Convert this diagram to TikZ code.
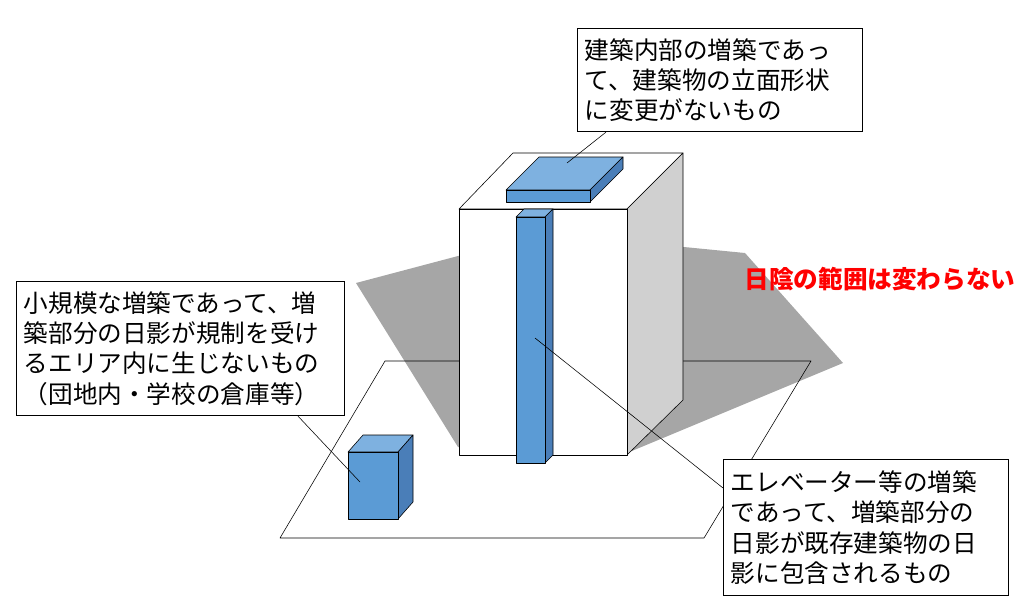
\documentclass[tikz,border=0pt]{standalone}
\usepackage{fontspec}
\newfontfamily\cjk{Noto Sans CJK JP}
\usetikzlibrary{calc}
\definecolor{boxblue}{HTML}{5B9BD5}
\definecolor{boxtop}{HTML}{7EB1E0}
\definecolor{boxside}{HTML}{4A7EB8}
\definecolor{shadegray}{HTML}{A6A6A6}
\definecolor{wallgray}{HTML}{D0D0D0}
\tikzset{
    note/.style = {draw, thick, fill=white, align=left, inner sep=0pt,
        font=\cjk\fontsize{17.5}{21.5}\selectfont, anchor=north west},
    leader/.style = {draw, thin},
    face/.style = {draw, line join=round}
}
\begin{document}
\begin{tikzpicture}[x=0.025cm, y=-0.025cm]
    \useasboundingbox (0,0) rectangle (1026,600);
    % shadow on the ground
    \fill[shadegray] (356,283) -- (458,256) -- (684,247) -- (745,253) -- (843,363) -- (627,453) -- (458,447) -- cycle;
    % ground plane
    \draw[face] (385,361) -- (811,361) -- (704,538) -- (280,538) -- cycle;
    % building
    \draw[face, fill=white] (459,209) -- (513,153) -- (683,153) -- (627,209) -- cycle;
    \draw[face, fill=wallgray] (627,209) -- (683,153) -- (683,400) -- (627,455) -- cycle;
    \draw[face, fill=white] (459,209) rectangle (627,455);
    % roof addition
    \draw[face, fill=boxtop] (506,190) -- (539,157) -- (623,157) -- (590,190) -- cycle;
    \draw[face, fill=boxside] (590,190) -- (623,157) -- (623,169) -- (590,202) -- cycle;
    \draw[face, fill=boxblue] (506,190) rectangle (590,202);
    % elevator shaft
    \draw[face, fill=boxtop] (516,217) -- (524,209) -- (553,209) -- (545,217) -- cycle;
    \draw[face, fill=boxside] (545,217) -- (553,209) -- (553,455) -- (545,463) -- cycle;
    \draw[face, fill=boxblue] (516,217) rectangle (545,463);
    % small storehouse
    \draw[face, fill=boxtop] (348,452) -- (363,435) -- (413,435) -- (398,452) -- cycle;
    \draw[face, fill=boxside] (398,452) -- (413,435) -- (413,502) -- (398,519) -- cycle;
    \draw[face, fill=boxblue] (348,452) rectangle (398,519);
    % anchors of leaders
    \coordinate (roofpt) at (567,163);
    \coordinate (storept) at (360,482);
    \coordinate (liftpt) at (535,338);
    % notes
    \node[note] (roofnote) at (577,28)
        {\parbox[t][103\dimexpr0.025cm\relax][c]{285\dimexpr0.025cm\relax}{\hspace*{0.3em}建築内部の増築であっ\\\hspace*{0.3em}て、建築物の立面形状\\\hspace*{0.3em}に変更がないもの}};
    \node[note] (storenote) at (16,281)
        {\parbox[t][134\dimexpr0.025cm\relax][c]{328\dimexpr0.025cm\relax}{\hspace*{0.3em}小規模な増築であって、増\\\hspace*{0.3em}築部分の日影が規制を受け\\\hspace*{0.3em}るエリア内に生じないもの\\\hspace*{0.3em}（団地内・学校の倉庫等）}};
    \node[note] (liftnote) at (723,459)
        {\parbox[t][136\dimexpr0.025cm\relax][c]{285\dimexpr0.025cm\relax}{\hspace*{0.3em}エレベーター等の増築\\\hspace*{0.3em}であって、増築部分の\\\hspace*{0.3em}日影が既存建築物の日\\\hspace*{0.3em}影に包含されるもの}};
    \node[text=red, font=\cjk\bfseries\fontsize{17.5}{21}\selectfont] (shadetext) at (880,279) {日陰の範囲は変わらない};
    % leaders
    \draw[leader] ($(roofnote.south west)+(29,0)$) -- (roofpt);
    \draw[leader] ($(storenote.south west)+(282,0)$) -- (storept);
    \draw[leader] ($(liftnote.north west)+(0,29)$) -- (liftpt);
\end{tikzpicture}
\end{document}
